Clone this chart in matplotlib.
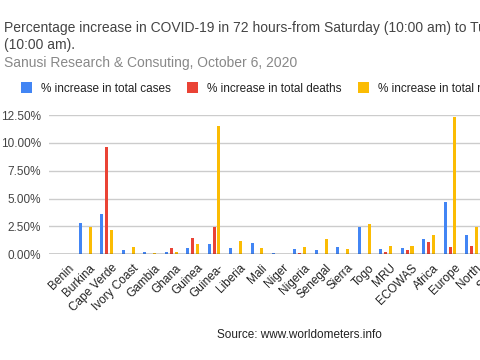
import matplotlib
matplotlib.use("Agg")
import matplotlib.pyplot as plt
import matplotlib.transforms as mtransforms
import numpy as np

plt.rcParams['font.family'] = ['Liberation Sans', 'DejaVu Sans']

categories = ["Benin", "Burkina", "Cape Verde", "Ivory Coast", "Gambia", "Ghana",
              "Guinea", "Guinea-", "Liberia", "Mali", "Niger", "Nigeria", "Senegal",
              "Sierra", "Togo", "MRU", "ECOWAS", "Africa", "Europe", "North", "South"]
cases = [0.0, 2.83, 3.60, 0.39, 0.24, 0.21, 0.57, 0.92, 0.57, 1.01, 0.15, 0.48, 0.42,
         0.65, 2.44, 0.48, 0.57, 1.34, 4.67, 1.73, 1.5]
deaths = [0.0, 0.0, 9.64, 0.0, 0.0, 0.57, 1.43, 2.47, 0.0, 0.0, 0.0, 0.09, 0.0,
          0.0, 0.0, 0.24, 0.39, 1.07, 0.65, 0.74, 0.5]
recoveries = [0.0, 2.44, 2.20, 0.62, 0.09, 0.24, 0.92, 11.53, 1.16, 0.57, 0.0, 0.65, 1.34,
              0.48, 2.74, 0.74, 0.74, 1.73, 12.35, 2.47, 2.0]
series_names = ["% increase in total cases", "% increase in total deaths",
                "% increase in total recoveries"]
colors = ["#4285F4", "#EA4335", "#FBBC04"]
yticks = [0, 2.5, 5.0, 7.5, 10.0, 12.5]

fig = plt.figure(figsize=(4.8, 3.6), dpi=100)
W, H = 480, 360
left_px, right_px = 49.3, 507.5
top_px, bot_px = 115.0, 254.3
ax = fig.add_axes([left_px / W, 1 - bot_px / H, (right_px - left_px) / W, (bot_px - top_px) / H])

x = np.arange(len(categories))
bw = 0.14
off = 0.228
handles = []
for i, (vals, c) in enumerate(zip([cases, deaths, recoveries], colors)):
    b = ax.bar(x + (i - 1) * off, vals, width=bw, color=c, zorder=3, label=series_names[i])
    handles.append(b)

ax.set_xlim(-0.68, len(categories) - 1 + 0.68)
ax.set_ylim(0, 12.5)
ax.set_yticks(yticks)
ax.set_yticklabels([f"{v:.2f}%" for v in yticks], fontsize=8.5, color="#444444")
ax.yaxis.grid(True, color="#cccccc", linewidth=1, zorder=0)
ax.axhline(0, color="#333333", linewidth=1, zorder=4)
ax.tick_params(axis='y', length=0, pad=6)
ax.tick_params(axis='x', length=0, pad=2)
ax.set_xticks(x)
ax.set_xticklabels(categories, rotation=45, ha='right', rotation_mode='anchor',
                   fontsize=8.5, color="#222222")
shift = mtransforms.ScaledTranslation(4 / 100, -5 / 100, fig.dpi_scale_trans)
for lbl in ax.get_xticklabels():
    lbl.set_transform(lbl.get_transform() + shift)
for s in ax.spines.values():
    s.set_visible(False)

fig.legend(handles=handles, labels=series_names, loc='center left',
           bbox_to_anchor=(20.5 / W, 1 - 88.5 / H), ncol=3, frameon=False,
           fontsize=8.5, handlelength=0.95, handleheight=0.95, handletextpad=0.75,
           columnspacing=1.4, borderaxespad=0, borderpad=0,
           labelcolor="#222222")

fig.text(4 / W, 1 - 32 / H,
         "Percentage increase in COVID-19 in 72 hours-from Saturday (10:00 am) to Tuesday",
         fontsize=10, color="#444444", va='baseline', ha='left')
fig.text(4 / W, 1 - 48.5 / H, "(10:00 am).", fontsize=10, color="#444444",
         va='baseline', ha='left')
fig.text(4 / W, 1 - 67 / H, "Sanusi Research & Consuting, October 6, 2020",
         fontsize=10, color="#888888", va='baseline', ha='left')
fig.text(299 / W, 1 - 335 / H, "Source: www.worldometers.info", fontsize=8.5,
         color="#222222", va='center', ha='center')

fig.savefig("out.png", dpi=100)
